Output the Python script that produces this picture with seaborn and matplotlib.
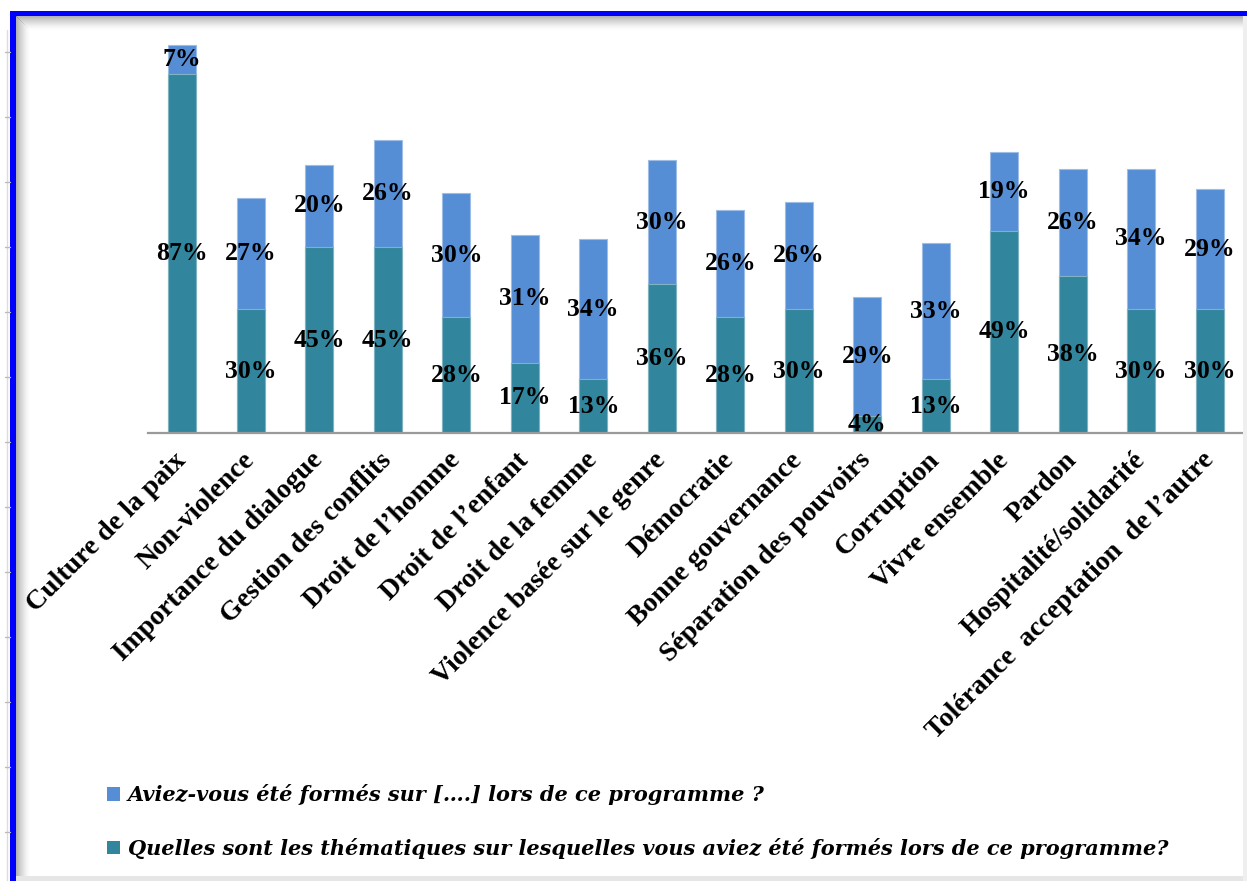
import numpy as np
import pandas as pd
import matplotlib
matplotlib.use("Agg")
import matplotlib.pyplot as plt
import seaborn as sns
from matplotlib.patches import Rectangle, Patch
from matplotlib.lines import Line2D
from matplotlib.font_manager import FontProperties

# ---------------- data ----------------
categories = [
    "Culture de la paix", "Non-violence", "Importance du dialogue",
    "Gestion des conflits", "Droit de l’homme", "Droit de l’enfant",
    "Droit de la femme", "Violence basée sur le genre", "Démocratie",
    "Bonne gouvernance", "Séparation des pouvoirs", "Corruption",
    "Vivre ensemble", "Pardon", "Hospitalité/solidarité",
    "Tolérance  acceptation  de l’autre",
]
thematiques = [87, 30, 45, 45, 28, 17, 13, 36, 28, 30, 4, 13, 49, 38, 30, 30]
formes = [7, 27, 20, 26, 30, 31, 34, 30, 26, 26, 29, 33, 19, 26, 34, 29]
legend_labels = [
    "Aviez-vous été formés sur [….] lors de ce programme ?",
    "Quelles sont les thématiques sur lesquelles vous aviez été formés lors de ce programme?",
]

# ---------------- style ----------------
sns.set_style("white")
plt.rcParams["font.family"] = ["Liberation Serif", "DejaVu Serif"]
plt.rcParams["text.color"] = "black"
plt.rcParams["xtick.color"] = "black"

TEAL = "#31859C"
BLUE = "#558ED5"

W, H = 1247, 881
fig = plt.figure(figsize=(W / 100, H / 100), dpi=100)
fig.patch.set_facecolor("white")


def fx(x):
    return x / W


def fy(y):
    return 1 - y / H


# axes placement (pixels from top-left)
left, right, base, top = 148, 1244, 433, 20
ax = fig.add_axes([fx(left), fy(base), fx(right - left), (base - top) / H])

df = pd.DataFrame({
    "cat": categories,
    "them": thematiques,
    "form": formes,
})
df["total"] = df["them"] + df["form"]

sns.barplot(data=df, x="cat", y="total", color=BLUE, saturation=1,
            width=0.41, edgecolor="#9DBCE6", linewidth=0.8, ax=ax)
sns.barplot(data=df, x="cat", y="them", color=TEAL, saturation=1,
            width=0.41, edgecolor="#7FB3C2", linewidth=0.8, ax=ax)

ax.set_xlim(-0.5, len(categories) - 0.5)
ax.set_ylim(0, 100)
ax.set_xlabel("")
ax.set_ylabel("")
ax.set_yticks([])
for s in ["top", "right", "left"]:
    ax.spines[s].set_visible(False)
ax.spines["bottom"].set_color("#9A9A9A")
ax.spines["bottom"].set_linewidth(1.6)
ax.patch.set_alpha(0)

ax.set_xticks(range(len(categories)))
ax.set_xticklabels(categories, rotation=45, ha="right", va="center",
                   rotation_mode="anchor", fontweight="bold", fontsize=20,
                   color="black")
ax.tick_params(axis="x", which="major", length=0, pad=17, labelcolor="black")
ax.set_xticks(np.arange(-0.5, len(categories), 1), minor=True)
ax.tick_params(axis="x", which="minor", length=7, width=1.3, color="#9A9A9A")

lab_font = dict(ha="center", va="center", fontsize=18.5, fontweight="bold",
                color="black")
for i, (t, f) in enumerate(zip(thematiques, formes)):
    ax.text(i, t / 2, f"{t}%", **lab_font)
    ax.text(i, t + f / 2, f"{f}%", **lab_font)

# legend
handles = [Patch(facecolor=BLUE, edgecolor="none"),
           Patch(facecolor=TEAL, edgecolor="none")]
fig.legend(handles, legend_labels, loc="upper left",
           bbox_to_anchor=(fx(99), fy(776)), frameon=False,
           prop=FontProperties(family="DejaVu Serif", weight="bold",
                               style="italic", size=15),
           labelcolor="black",
           handlelength=0.62, handleheight=0.62, handletextpad=0.35,
           labelspacing=1.55, borderaxespad=0)

# ---------------- frame decorations ----------------
# gray shadow inside the blue frame
for k in range(14):
    a = 0.45 * (1 - k / 14) ** 1.5
    fig.add_artist(Rectangle((fx(16 + k), 0), fx(1), fy(16 + k),
                             transform=fig.transFigure, facecolor="#555555",
                             edgecolor="none", alpha=a))
    fig.add_artist(Rectangle((fx(16 + k), fy(17 + k)), fx(W - 16 - k), 1 / H,
                             transform=fig.transFigure, facecolor="#555555",
                             edgecolor="none", alpha=a))
# light gray bottom and right edges
fig.add_artist(Rectangle((fx(16), 0), 1 - fx(16), 5 / H,
                         transform=fig.transFigure, facecolor="#E6E6E6",
                         edgecolor="none"))
fig.add_artist(Rectangle((fx(1243), 0), fx(4), fy(16),
                         transform=fig.transFigure, facecolor="#EFEFEF",
                         edgecolor="none"))
# blue frame
fig.add_artist(Rectangle((fx(10), 0), fx(6), fy(11),
                         transform=fig.transFigure, facecolor="#0000FF",
                         edgecolor="none"))
fig.add_artist(Rectangle((fx(10), fy(16)), 1 - fx(10), 5 / H,
                         transform=fig.transFigure, facecolor="#0000FF",
                         edgecolor="none"))
# ruler marks on the far left
fig.add_artist(Line2D([fx(7), fx(7)], [0, fy(30)], transform=fig.transFigure,
                      color="#DDDDDD", lw=1))
for yy in range(52, H, 65):
    fig.add_artist(Line2D([fx(5), fx(10)], [fy(yy), fy(yy)],
                          transform=fig.transFigure, color="#BBBBBB", lw=1))

fig.savefig("out.png", dpi=100)
